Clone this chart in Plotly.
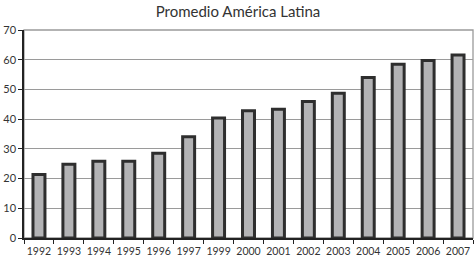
import plotly.graph_objects as go

years = ["1992", "1993", "1994", "1995", "1996", "1997", "1999", "2000",
         "2001", "2002", "2003", "2004", "2005", "2006", "2007"]
values = [21.4, 24.8, 25.8, 25.8, 28.5, 34.1, 40.4, 42.8,
          43.3, 45.9, 48.7, 54.0, 58.5, 59.7, 61.6]
y_ticks = [0, 10, 20, 30, 40, 50, 60, 70]

fig = go.Figure()
fig.add_trace(go.Bar(
    x=years, y=values,
    width=0.40,
    marker=dict(color="#b3b3b5", line=dict(color="#2e2e2e", width=3)),
))

fig.update_layout(
    width=476, height=262,
    margin=dict(l=22, r=3, t=30, b=24),
    paper_bgcolor="white", plot_bgcolor="white",
    showlegend=False,
    font=dict(family="Lato, sans-serif", color="#333333"),
    title=dict(text="Promedio América Latina", x=0.5, xanchor="center",
               y=0.955, yanchor="middle",
               font=dict(size=15, color="#333333", family="Lato, sans-serif")),
    bargap=0.5,
)

fig.update_xaxes(
    type="category",
    showline=True, linecolor="#222222", linewidth=1.5,
    ticks="outside", tickson="boundaries", ticklen=4, tickcolor="#222222", tickwidth=1.2,
    tickfont=dict(size=10.5, color="#333333"), tickangle=0, ticklabelstandoff=3,
    showgrid=False,
)
fig.update_yaxes(
    range=[0, 70], tickvals=y_ticks,
    showline=True, linecolor="#222222", linewidth=1.5,
    ticks="outside", ticklen=4, tickcolor="#222222", tickwidth=1.2,
    tickfont=dict(size=11, color="#333333"),
    showgrid=True, gridcolor="#9a9a9a", gridwidth=1.3,
    zeroline=False,
)

fig.add_shape(type="rect", xref="paper", yref="paper", x0=0, x1=1, y0=0, y1=1,
              line=dict(color="#9a9a9a", width=1.3), layer="below")

fig.write_html("out.html")
